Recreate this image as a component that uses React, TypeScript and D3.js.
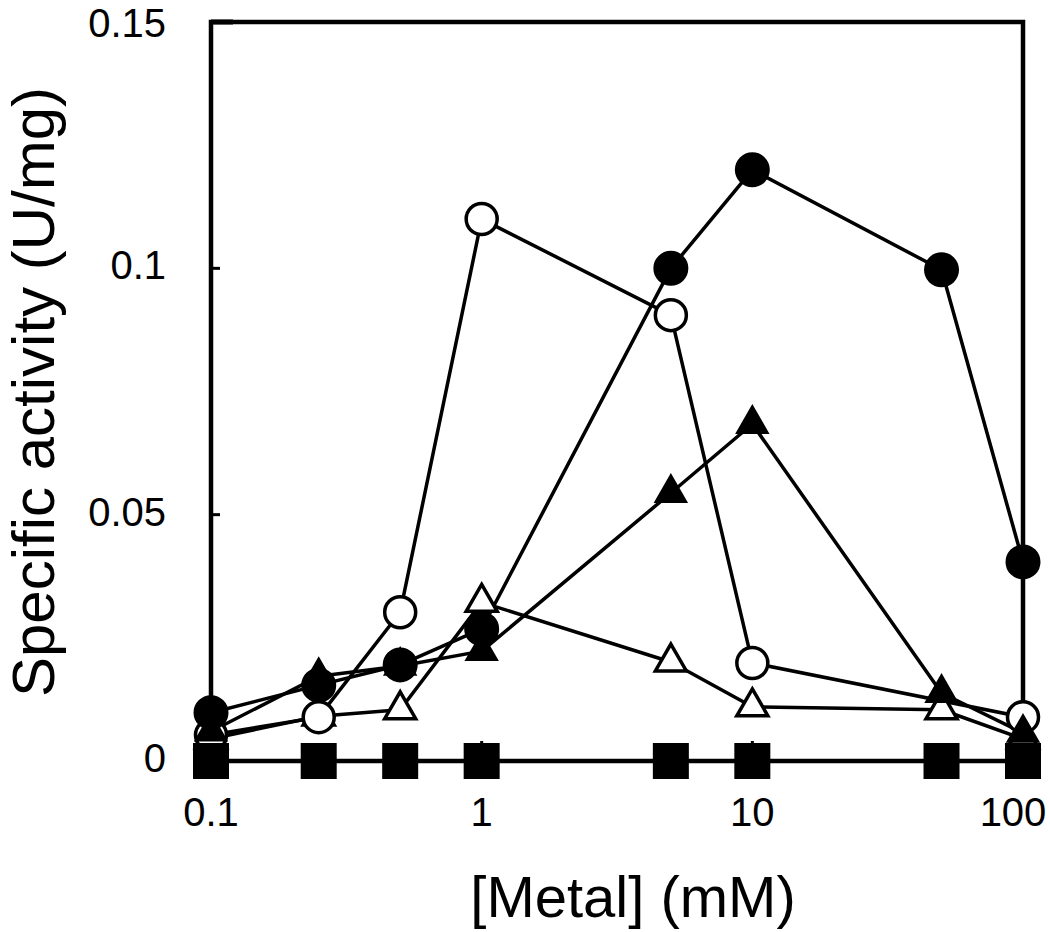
import React from 'react';
import * as d3 from 'd3';

const concentrations = [0.1, 0.25, 0.5, 1, 5, 10, 50, 100];
const openCircleConc = [0.1, 0.25, 0.5, 1, 5, 10, 100];
const filledCircle = [0.0098, 0.0154, 0.0195, 0.0268, 0.1, 0.12, 0.0997, 0.0404];
const openCircle = [0.0053, 0.0089, 0.0302, 0.11, 0.0905, 0.0199, 0.0089];
const filledTriangle = [0.006, 0.0172, 0.0193, 0.0223, 0.0544, 0.0684, 0.0138, 0.0057];
const openTriangle = [0.0045, 0.0091, 0.0104, 0.0322, 0.0201, 0.011, 0.0104, 0.0045];
const filledSquare = [0, 0, 0, 0, 0, 0, 0, 0];
const xTicks = [0.1, 1, 10, 100];
const xTickLabels = ['0.1', '1', '10', '100'];
const yTicks = [0, 0.05, 0.1, 0.15];
const yTickLabels = ['0', '0.05', '0.1', '0.15'];
const xTitle = '[Metal] (mM)';
const yTitle = 'Specific activity (U/mg)';

const W = 1050;
const H = 932;
const left = 211;
const right = 1023;
const top = 22;
const bottom = 761;
const FONT = '"Liberation Sans", Arial, Helvetica, sans-serif';

type Series = { xs: number[]; values: number[]; shape: 'circle' | 'triangle' | 'square'; filled: boolean };

// drawing order: back to front
const seriesList: Series[] = [
  { xs: concentrations, values: openTriangle, shape: 'triangle', filled: false },
  { xs: openCircleConc, values: openCircle, shape: 'circle', filled: false },
  { xs: concentrations, values: filledCircle, shape: 'circle', filled: true },
  { xs: concentrations, values: filledTriangle, shape: 'triangle', filled: true },
  { xs: concentrations, values: filledSquare, shape: 'square', filled: true },
];

export default function App() {
  const x = d3.scaleLog().domain([0.1, 100]).range([left, right]);
  const y = d3.scaleLinear().domain([0, 0.15]).range([bottom, top]);

  const line = d3
    .line<[number, number]>()
    .x((d) => x(d[0]))
    .y((d) => y(d[1]));

  const symbolPath = (s: Series) => {
    if (s.shape === 'circle') {
      return d3.symbol().type(d3.symbolCircle).size(Math.PI * (s.filled ? 16.5 : 15.5) ** 2)();
    }
    if (s.shape === 'triangle') {
      const side = 31;
      return d3.symbol().type(d3.symbolTriangle).size((Math.sqrt(3) / 4) * side * side)();
    }
    return d3.symbol().type(d3.symbolSquare).size(34 * 34)();
  };

  return (
    <svg width={W} height={H} style={{ display: 'block', position: 'absolute', left: 0, top: 0 }}>
      <rect x={0} y={0} width={W} height={H} fill="#fff" />
      {/* frame */}
      <rect x={left} y={top} width={right - left} height={bottom - top} fill="none" stroke="#000" strokeWidth={4.5} />
      {/* y ticks (inward) */}
      {yTicks.map((t, i) => (
        <line
          key={'yt' + i}
          x1={left}
          x2={left + (t === 0.15 ? 22 : 9)}
          y1={y(t)}
          y2={y(t)}
          stroke="#000"
          strokeWidth={t === 0.15 ? 5 : 3}
        />
      ))}
      {/* x ticks (inward) */}
      {xTicks.map((t, i) => (
        <line key={'xt' + i} x1={x(t)} x2={x(t)} y1={bottom} y2={bottom - 20} stroke="#000" strokeWidth={3} />
      ))}
      {/* y tick labels */}
      {yTicks.map((t, i) => (
        <text
          key={'yl' + i}
          x={166}
          y={Math.max(y(t) + 11, 37)}
          textAnchor="end"
          fontFamily={FONT}
          fontSize={40}
          fill="#000"
        >
          {yTickLabels[i]}
        </text>
      ))}
      {/* x tick labels */}
      {xTicks.map((t, i) => (
        <text
          key={'xl' + i}
          x={Math.min(x(t), 1013)}
          y={826}
          textAnchor="middle"
          fontFamily={FONT}
          fontSize={40}
          fill="#000"
        >
          {xTickLabels[i]}
        </text>
      ))}
      {/* axis titles */}
      <text x={633} y={917} textAnchor="middle" fontFamily={FONT} fontSize={58} fill="#000">
        {xTitle}
      </text>
      <text
        transform={`translate(54, 392) rotate(-90)`}
        textAnchor="middle"
        fontFamily={FONT}
        fontSize={60}
        fill="#000"
      >
        {yTitle}
      </text>
      {/* lines */}
      {seriesList.map((s, si) => (
        <path
          key={'line' + si}
          d={line(s.xs.map((c, i) => [c, s.values[i]] as [number, number])) || ''}
          fill="none"
          stroke="#000"
          strokeWidth={3.5}
          strokeLinejoin="round"
        />
      ))}
      {/* markers */}
      {seriesList.map((s, si) => (
        <g key={'m' + si}>
          {s.xs.map((c, i) => (
            <path
              key={i}
              d={symbolPath(s) || ''}
              transform={`translate(${x(c)}, ${y(s.values[i])})`}
              fill={s.filled ? '#000' : '#fff'}
              stroke="#000"
              strokeWidth={s.filled ? 2 : 3.5}
              strokeLinejoin="miter"
            />
          ))}
        </g>
      ))}
    </svg>
  );
}
